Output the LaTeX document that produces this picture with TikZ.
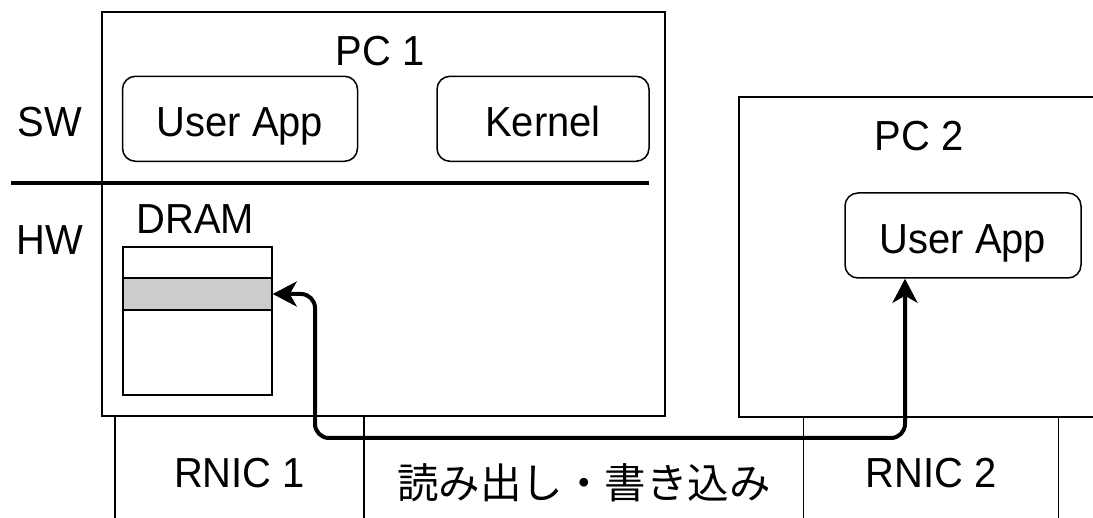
\documentclass[tikz,border=0pt]{standalone}
\usepackage{fontspec}
\setmainfont{Liberation Sans}[FakeStretch=0.95]
\newfontfamily\jpfont{Noto Sans CJK JP}
\usetikzlibrary{arrows.meta}
\definecolor{cellgray}{HTML}{CCCCCC}
\tikzset{
  lbl/.style={font=\fontsize{42}{50}\selectfont, inner sep=0pt},
  frame/.style={draw, line width=1.5pt, inner sep=0pt},
  appbox/.style={frame, rounded corners=13pt, font=\fontsize{42}{50}\selectfont,
    text height=35.5pt, text depth=0pt},
  column/.style={inner sep=0pt, font=\fontsize{42}{50}\selectfont},
  divider/.style={line width=1.5pt},
  thickline/.style={line width=4pt},
  conn/.style={line width=4pt, rounded corners=14pt,
    {Stealth[length=24pt,width=25pt,inset=7pt]}-{Stealth[length=24pt,width=25pt,inset=7pt]}},
}
\begin{document}
\begin{tikzpicture}[x=1pt,y=-1pt]
\useasboundingbox (0,0) rectangle (1093,518);
\clip (0,0) rectangle (1093,518);

% machines
\node[frame, minimum width=563pt, minimum height=404pt] (pc1) at (383.5,214) {};
\node[frame, minimum width=381pt, minimum height=320pt] (pc2) at (929.5,257) {};
\node[lbl] (pc1lbl) at (380,51) {PC 1};
\node[lbl] (pc2lbl) at (919,136.5) {PC 2};

% software / hardware layers
\node[lbl] (sw) at (50,122.5) {SW};
\node[lbl] (hw) at (50,240) {HW};
\coordinate (sepl) at (11,183);
\coordinate (sepr) at (649,183);
\draw[thickline] (sepl) -- (sepr);

% software components
\node[appbox, minimum width=235pt, minimum height=85pt] (ua1) at (240,118.8) {User App};
\node[appbox, minimum width=212pt, minimum height=85pt] (kern) at (543,118.8) {Kernel};
\node[appbox, minimum width=236pt, minimum height=85pt] (ua2) at (963,235.5) {User App};

% memory
\node[lbl] (dramlbl) at (195.5,219.5) {DRAM};
\node[frame, minimum width=149pt, minimum height=148pt] (dram) at (197.5,321) {};
\node[frame, fill=cellgray, minimum width=149pt, minimum height=32pt] (cell) at (197.5,294) {};

% network adapters and transfer
\node[column, minimum width=249pt, minimum height=114pt] (rnic1) at (239.5,473) {RNIC 1};
\node[column, minimum width=439.5pt, minimum height=134pt] (xfer) at (583.75,483) {\jpfont\fontsize{41.5}{48}\selectfont 読み出し・書き込み};
\node[column, minimum width=255pt, minimum height=114pt] (rnic2) at (931,473) {RNIC 2};
\draw[divider] (rnic1.north west) -- (rnic1.south west);
\draw[divider] (xfer.north west) -- (xfer.south west);
\draw[divider] (rnic2.north west) -- (rnic2.south west);
\draw[divider] (rnic2.north east) -- (rnic2.south east);

% RDMA path
\coordinate (b1) at (315,438);
\coordinate (b2) at (905,438);
\draw[conn] (cell.east) -| (b1) -- (b2) -- (b2 |- ua2.south);
\end{tikzpicture}
\end{document}
